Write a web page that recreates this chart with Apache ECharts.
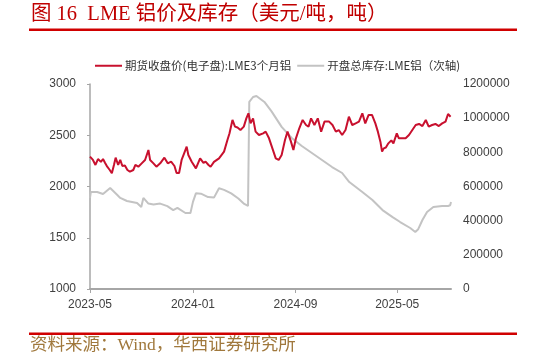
<!DOCTYPE html>
<html><head><meta charset="utf-8">
<script src="https://cdn.jsdelivr.net/npm/echarts@6/dist/echarts.min.js"></script>
<style>html,body{margin:0;padding:0;background:#fff}#c{width:533px;height:361px}</style>
</head><body><div id="c"></div>
<script>
// Tick labels on the date axis
var xTickLabels = ['2023-05-01', '2024-01-01', '2024-09-01', '2025-05-01'];
// LME 3-month aluminium closing price (USD/t)
var priceDates = ['2023-05-01','2023-05-08','2023-05-14','2023-05-20','2023-05-27','2023-06-01','2023-06-06','2023-06-11','2023-06-17','2023-06-22','2023-06-27','2023-07-01','2023-07-07','2023-07-12','2023-07-17','2023-07-23','2023-07-29','2023-08-04','2023-08-12','2023-08-17','2023-08-24','2023-09-01','2023-09-09','2023-09-17','2023-09-21','2023-09-29','2023-10-06','2023-10-15','2023-10-25','2023-11-02','2023-11-10','2023-11-18','2023-11-23','2023-11-29','2023-12-05','2023-12-11','2023-12-17','2023-12-21','2023-12-29','2024-01-08','2024-01-18','2024-01-26','2024-01-31','2024-02-07','2024-02-12','2024-02-20','2024-03-03','2024-03-15','2024-03-23','2024-03-28','2024-04-04','2024-04-10','2024-04-16','2024-04-23','2024-05-01','2024-05-07','2024-05-12','2024-05-17','2024-05-23','2024-05-29','2024-06-06','2024-06-16','2024-06-22','2024-06-30','2024-07-08','2024-07-16','2024-07-23','2024-07-30','2024-08-07','2024-08-13','2024-08-21','2024-08-27','2024-09-02','2024-09-10','2024-09-18','2024-09-26','2024-10-02','2024-10-08','2024-10-16','2024-10-24','2024-11-01','2024-11-09','2024-11-20','2024-11-28','2024-12-06','2024-12-13','2024-12-21','2024-12-29','2025-01-06','2025-01-14','2025-01-22','2025-01-30','2025-02-07','2025-02-14','2025-02-22','2025-03-02','2025-03-10','2025-03-16','2025-03-22','2025-03-26','2025-03-30','2025-04-04','2025-04-10','2025-04-17','2025-04-22','2025-04-30','2025-05-05','2025-05-13','2025-05-21','2025-05-29','2025-06-06','2025-06-14','2025-06-22','2025-06-30','2025-07-08','2025-07-15','2025-07-23','2025-07-31','2025-08-08','2025-08-16','2025-08-24','2025-08-30','2025-09-05'];
var priceValues = [2291,2259,2210,2268,2240,2268,2230,2193,2161,2129,2210,2281,2210,2259,2200,2205,2161,2145,2161,2210,2193,2226,2259,2356,2259,2226,2193,2226,2281,2226,2242,2200,2132,2132,2259,2324,2389,2307,2242,2177,2275,2230,2242,2210,2193,2240,2275,2340,2454,2519,2649,2584,2575,2551,2584,2665,2714,2616,2665,2535,2502,2519,2535,2470,2372,2275,2259,2307,2454,2535,2440,2356,2470,2568,2649,2600,2584,2665,2600,2665,2535,2633,2633,2600,2535,2551,2502,2551,2681,2600,2616,2633,2714,2616,2698,2698,2616,2535,2437,2340,2372,2380,2421,2450,2421,2519,2470,2470,2470,2502,2551,2600,2610,2590,2649,2584,2600,2610,2590,2616,2633,2707,2681];
// LME aluminium opening total stocks (t), secondary axis
var stockDates = ['2023-05-01','2023-05-03','2023-05-18','2023-06-01','2023-06-18','2023-07-05','2023-07-12','2023-07-28','2023-08-21','2023-08-31','2023-09-05','2023-09-17','2023-09-29','2023-10-15','2023-11-01','2023-11-15','2023-11-25','2023-12-14','2023-12-26','2024-01-01','2024-01-08','2024-01-20','2024-02-06','2024-02-20','2024-03-03','2024-03-15','2024-04-01','2024-04-18','2024-05-02','2024-05-11','2024-05-14','2024-05-23','2024-05-31','2024-06-19','2024-07-06','2024-07-30','2024-08-23','2024-09-16','2024-10-10','2024-11-03','2024-11-27','2024-12-21','2025-01-07','2025-02-07','2025-03-03','2025-03-27','2025-04-20','2025-05-08','2025-06-01','2025-06-13','2025-06-20','2025-06-30','2025-07-11','2025-07-26','2025-08-16','2025-08-30','2025-09-04','2025-09-06'];
var stockValues = [533000,568000,568000,556000,591000,550000,533000,515000,503000,480000,533000,500000,495000,500000,485000,462000,475000,445000,445000,510000,560000,558000,538000,535000,590000,580000,560000,530000,498000,486000,1095000,1124000,1130000,1095000,1040000,949000,884000,837000,796000,755000,714000,679000,626000,568000,521000,462000,421000,392000,357000,334000,350000,404000,451000,480000,486000,486000,490000,509000];

function ts(d) { return Date.parse(d + 'T00:00:00Z'); }
function zip(a, b) { return a.map(function (d, i) { return [ts(d), b[i]]; }); }
var tickTs = xTickLabels.map(ts);

var chart = echarts.init(document.getElementById('c'), null, {renderer: 'canvas'});
var axisTxt = {color: '#404040', fontSize: 12, fontFamily: 'Liberation Sans, Arial, sans-serif'};
var plain = function (v) { return String(v); };
var red = '#C8102E', grey = '#C3C3C3';
chart.setOption({
  animation: false,
  backgroundColor: '#fff',
  grid: {left: 90, right: 82, top: 84, bottom: 72, containLabel: false},
  legend: {
    top: 55, left: 90,
    itemWidth: 27, itemHeight: 2, itemGap: 6,
    icon: 'rect',
    textStyle: {color: '#333', fontSize: 11.5, fontFamily: 'Noto Sans CJK SC, sans-serif', padding: [0, 0, 0, -2]},
    data: ['期货收盘价(电子盘):LME3个月铝', '开盘总库存:LME铝（次轴)']
  },
  xAxis: {
    type: 'value',
    min: ts('2023-05-01'), max: ts('2025-09-06'),
    axisLine: {lineStyle: {color: '#A6A6A6', width: 2}},
    axisTick: {show: true, length: 4, lineStyle: {color: '#A6A6A6'}, customValues: tickTs},
    axisLabel: Object.assign({}, axisTxt, {
      margin: 10,
      customValues: tickTs,
      formatter: function (v) { var d = new Date(v); return d.getUTCFullYear() + '-' + String(d.getUTCMonth() + 1).padStart(2, '0'); }
    }),
    splitLine: {show: false}
  },
  yAxis: [{
    type: 'value', min: 1000, max: 3000, interval: 500,
    axisLine: {show: true, lineStyle: {color: '#A6A6A6', width: 1.5}},
    axisTick: {show: true, length: 3, lineStyle: {color: '#A6A6A6'}},
    axisLabel: Object.assign({}, axisTxt, {margin: 14, formatter: plain}),
    splitLine: {show: false}
  }, {
    type: 'value', min: 0, max: 1200000, interval: 200000,
    axisLine: {show: false}, axisTick: {show: false},
    axisLabel: Object.assign({}, axisTxt, {margin: 12, formatter: plain}),
    splitLine: {show: false}
  }],
  series: [{
    name: '期货收盘价(电子盘):LME3个月铝', type: 'line', yAxisIndex: 0, z: 3,
    showSymbol: false, symbol: 'none',
    lineStyle: {color: red, width: 2}, itemStyle: {color: red},
    data: zip(priceDates, priceValues)
  }, {
    name: '开盘总库存:LME铝（次轴)', type: 'line', yAxisIndex: 1, z: 2,
    showSymbol: false, symbol: 'none',
    lineStyle: {color: grey, width: 2}, itemStyle: {color: grey},
    data: zip(stockDates, stockValues)
  }],
  graphic: [
    {type: 'text', left: 31, top: 4, style: {text: '图 16  LME 铝价及库存（美元/吨，吨）', fill: '#C00000', font: '20.5px "Liberation Serif", "Noto Sans CJK SC", serif'}},
    {type: 'rect', shape: {x: 29, y: 28.5, width: 488, height: 2.5}, style: {fill: '#D00000'}},
    {type: 'rect', shape: {x: 29, y: 332.5, width: 488, height: 2.5}, style: {fill: '#D00000'}},
    {type: 'text', left: 30, top: 337, style: {text: '资料来源：Wind，华西证券研究所', fill: '#A0783C', font: '17.5px "Liberation Serif", "Noto Sans CJK SC", serif'}}
  ]
});
</script></body></html>
